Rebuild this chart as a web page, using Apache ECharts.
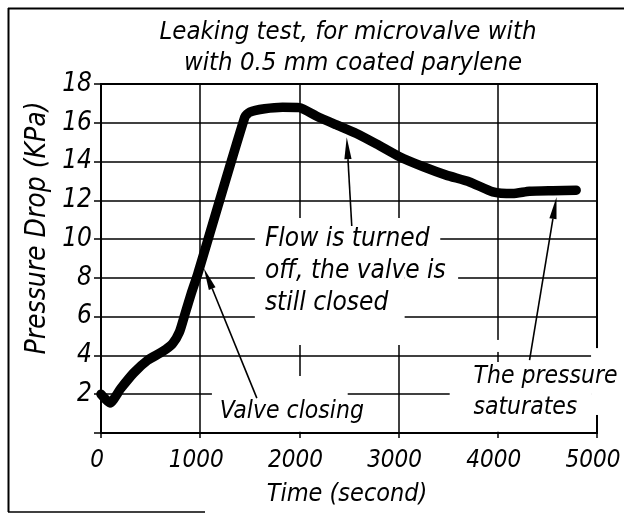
<!DOCTYPE html>
<html>
<head>
<meta charset="utf-8">
<script src="https://cdn.jsdelivr.net/npm/echarts@6/dist/echarts.min.js"></script>
<style>
  html, body { margin: 0; padding: 0; background: #ffffff; }
  #chart { width: 624px; height: 516px; }
</style>
</head>
<body>
<div id="chart"></div>
<script>
// Leaking test of a microvalve coated with 0.5 mm parylene
const timeSec = [0, 90, 200, 330, 470, 620, 720, 790, 850, 910, 975, 1450, 1500, 1650, 1830, 2000,
  2170, 2370, 2575, 2780, 3010, 3250, 3480, 3715, 3950, 4150, 4320, 4555, 4790];
const pressureKPa = [2.0, 1.55, 2.3, 3.1, 3.75, 4.2, 4.6, 5.2, 6.2, 7.2, 8.2, 16.3, 16.55, 16.72, 16.8, 16.78,
  16.35, 15.9, 15.45, 14.9, 14.25, 13.73, 13.3, 12.95, 12.44, 12.35, 12.47, 12.5, 12.52];

const xTicks = [0, 1000, 2000, 3000, 4000, 5000];
const yTicks = [0, 2, 4, 6, 8, 10, 12, 14, 16, 18];

const titleLines = ['Leaking test, for microvalve with', 'with 0.5 mm coated parylene'];
const xName = 'Time (second)';
const yName = 'Pressure Drop (KPa)';

const FONT = '"Liberation Sans Narrow", "DejaVu Sans Condensed", "Liberation Sans", sans-serif';
const INK = '#000000';

const chart = echarts.init(document.getElementById('chart'), null, { renderer: 'canvas' });

const points = timeSec.map((t, i) => [t, pressureKPa[i]]);

chart.setOption({
  animation: false,
  backgroundColor: '#ffffff',
  grid: {
    left: 101, right: 27, top: 84, bottom: 83,
    outerBoundsMode: 'none', containLabel: false,
    show: true, borderColor: INK, borderWidth: 2, backgroundColor: 'transparent'
  },
  xAxis: {
    type: 'value',
    min: xTicks[0], max: xTicks[xTicks.length - 1], interval: xTicks[1] - xTicks[0],
    axisLine: { show: true, lineStyle: { color: INK, width: 2 } },
    axisTick: { show: true, inside: false, length: 5, lineStyle: { color: INK, width: 1.5 } },
    axisLabel: {
      color: INK, fontFamily: FONT, fontStyle: 'italic', fontSize: 24, margin: 16,
      padding: [0, 8, 0, 0],
      formatter: v => String(v)
    },
    splitLine: { show: true, lineStyle: { color: INK, width: 1.5 } }
  },
  yAxis: {
    type: 'value',
    min: yTicks[0], max: yTicks[yTicks.length - 1], interval: yTicks[1] - yTicks[0],
    axisLine: { show: true, lineStyle: { color: INK, width: 2 } },
    axisTick: { show: true, inside: false, length: 7, lineStyle: { color: INK, width: 1.5 } },
    axisLabel: {
      color: INK, fontFamily: FONT, fontStyle: 'italic', fontSize: 26, margin: 9,
      padding: [8, 0, 0, 0],
      formatter: v => (v === 0 ? '' : String(v))
    },
    splitLine: { show: true, lineStyle: { color: INK, width: 1.5 } }
  },
  series: [{
    type: 'line',
    data: points,
    showSymbol: false,
    smooth: 0.2,
    z: 2,
    lineStyle: { color: INK, width: 9.5, cap: 'round', join: 'round' }
  }]
});

// Annotation layout in data coordinates
const gaps = [
  // text box of "Flow is turned off..."
  [1551, 3061, 4.54, 11.09],
  [3061, 3420, 9.44, 10.47],
  [3061, 3600, 7.37, 8.51],
  // text box of "Valve closing"
  [1118, 2487, 0.06, 2.94],
  // text box of "The pressure saturates"
  [3515, 4940, 0.06, 3.66],
  [3958, 4040, 4.18, 4.80],
  [4940, 5040, 0.93, 4.38]
];

const notes = [
  { lines: ['Flow is turned', 'off, the valve is', 'still closed'], at: [1652, 10.0], step: 32, size: 26 },
  { lines: ['Valve closing'], at: [1198, 1.08], step: 0, size: 24.5 },
  { lines: ['The pressure', 'saturates'], at: [3755, 2.93], step: 31, size: 24.5 }
];

const arrows = [
  { from: [1571, 1.8], to: [1037, 8.5] },
  { from: [2528, 10.68], to: [2477, 15.26] },
  { from: [4320, 3.76], to: [4592, 12.17] }
];

function px(p) { return chart.convertToPixel({ gridIndex: 0 }, p); }

const g = [];

// frame around the figure
g.push({ type: 'line', z: 5, shape: { x1: 8.5, y1: 8, x2: 8.5, y2: 512 }, style: { stroke: INK, lineWidth: 2 } });
g.push({ type: 'line', z: 5, shape: { x1: 8, y1: 8.5, x2: 624, y2: 8.5 }, style: { stroke: INK, lineWidth: 2 } });
g.push({ type: 'line', z: 5, shape: { x1: 8, y1: 512, x2: 205, y2: 512 }, style: { stroke: INK, lineWidth: 1.5 } });

// white boxes behind the annotation texts
gaps.forEach(([x0, x1, y0, y1]) => {
  const a = px([x0, y1]);
  const b = px([x1, y0]);
  g.push({
    type: 'rect', z: 1,
    shape: { x: a[0], y: a[1], width: b[0] - a[0], height: b[1] - a[1] },
    style: { fill: '#ffffff' }
  });
});

// annotation texts
notes.forEach(n => {
  const p = px(n.at);
  n.lines.forEach((s, i) => {
    g.push({
      type: 'text', z: 4,
      x: p[0], y: p[1] + i * n.step,
      style: {
        text: s, fill: INK, font: 'italic ' + n.size + 'px ' + FONT,
        textAlign: 'left', textVerticalAlign: 'middle'
      }
    });
  });
});

// arrows pointing at the curve
arrows.forEach(a => {
  const s = px(a.from);
  const e = px(a.to);
  const dx = e[0] - s[0], dy = e[1] - s[1];
  const len = Math.hypot(dx, dy);
  const ux = dx / len, uy = dy / len;
  const headLen = 22, headHalf = 3.6;
  const bx = e[0] - ux * headLen, by = e[1] - uy * headLen;
  g.push({
    type: 'line', z: 4,
    shape: { x1: s[0], y1: s[1], x2: bx, y2: by },
    style: { stroke: INK, lineWidth: 1.6 }
  });
  g.push({
    type: 'polygon', z: 4,
    shape: { points: [[e[0], e[1]], [bx - uy * headHalf, by + ux * headHalf], [bx + uy * headHalf, by - ux * headHalf]] },
    style: { fill: INK }
  });
});

// title and axis names
g.push({
  type: 'text', z: 4, x: 348, y: 32,
  style: { text: titleLines[0], fill: INK, font: 'italic 25.5px ' + FONT, textAlign: 'center', textVerticalAlign: 'middle' }
});
g.push({
  type: 'text', z: 4, x: 353, y: 63,
  style: { text: titleLines[1], fill: INK, font: 'italic 25.5px ' + FONT, textAlign: 'center', textVerticalAlign: 'middle' }
});
g.push({
  type: 'text', z: 4, x: 347, y: 494,
  style: { text: xName, fill: INK, font: 'italic 25px ' + FONT, textAlign: 'center', textVerticalAlign: 'middle' }
});
g.push({
  type: 'text', z: 4, x: 38, y: 228, rotation: Math.PI / 2,
  style: { text: yName, fill: INK, font: 'italic 28px ' + FONT, textAlign: 'center', textVerticalAlign: 'middle' }
});

chart.setOption({ graphic: { elements: g } });
</script>
</body>
</html>
